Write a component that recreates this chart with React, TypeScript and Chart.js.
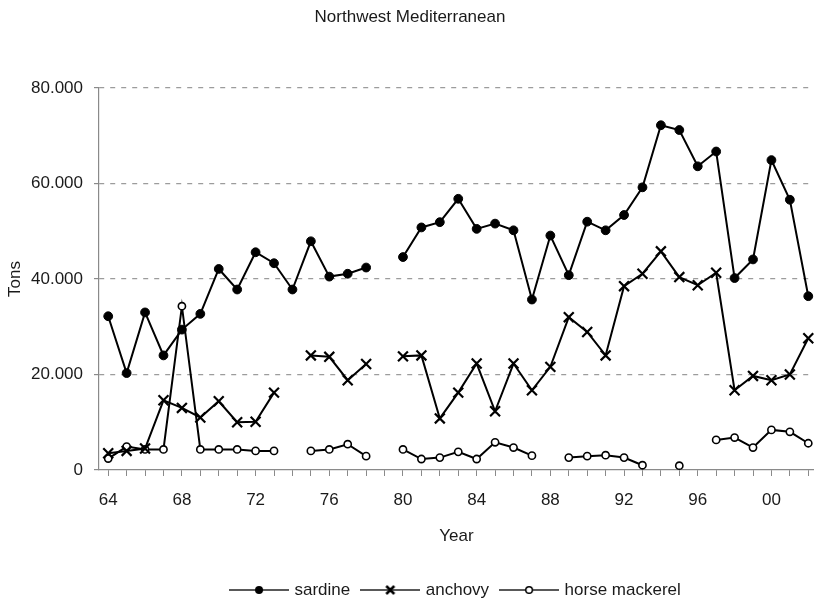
import React, { useEffect, useRef } from 'react';
import { Chart, registerables } from 'chart.js';

Chart.register(...registerables);

const years = [
  1964, 1965, 1966, 1967, 1968, 1969, 1970, 1971, 1972, 1973,
  1974, 1975, 1976, 1977, 1978, 1979, 1980, 1981, 1982, 1983,
  1984, 1985, 1986, 1987, 1988, 1989, 1990, 1991, 1992, 1993,
  1994, 1995, 1996, 1997, 1998, 1999, 2000, 2001, 2002,
];

const sardine = [
  32200, 20300, 33000, 24000, 29400, 32700, 42100, 37800, 45600, 43300,
  37800, 47900, 40500, 41100, 42400, null, 44600, 50800, 51900, 56800,
  50500, 51600, 50200, 35700, 49100, 40800, 52000, 50200, 53400, 59200,
  72200, 71200, 63600, 66700, 40200, 44100, 64900, 56600, 36400,
];

const anchovy = [
  3500, 4000, 4500, 14600, 13000, 11000, 14400, 10000, 10100, 16200,
  null, 24000, 23700, 18800, 22200, null, 23800, 24000, 10800, 16200,
  22300, 12300, 22300, 16700, 21600, 32000, 28900, 24000, 38500, 41100,
  45800, 40400, 38700, 41300, 16700, 19700, 18800, 20000, 27600,
];

const horseMackerel = [
  2400, 4900, 4300, 4300, 34300, 4300, 4300, 4300, 4000, 4000,
  null, 4000, 4300, 5400, 2900, null, 4300, 2300, 2600, 3800,
  2300, 5800, 4700, 3000, null, 2600, 2900, 3100, 2600, 1000,
  null, 900, null, 6300, 6800, 4700, 8400, 8000, 5600,
];

const seriesNames = ['sardine', 'anchovy', 'horse mackerel'];
const yTickValues = [0, 20000, 40000, 60000, 80000];
const labeledYears = [1964, 1968, 1972, 1976, 1980, 1984, 1988, 1992, 1996, 2000];

const FONT = "'Liberation Sans', Arial, Helvetica, sans-serif";
const TEXT = '#1a1a1a';
const AXIS = '#8a8a8a';
const GRID = '#9c9c9c';

function fmtTons(v: number): string {
  if (v === 0) return '0';
  const s = String(Math.round(v));
  return s.replace(/\B(?=(\d{3})+(?!\d))/g, '.');
}

function makeLegendImage(kind: 'dot' | 'cross' | 'ring'): HTMLCanvasElement {
  const c = document.createElement('canvas');
  c.width = 60;
  c.height = 16;
  const g = c.getContext('2d')!;
  g.strokeStyle = '#222';
  g.lineWidth = 1.5;
  g.beginPath();
  g.moveTo(0, 8);
  g.lineTo(60, 8);
  g.stroke();
  g.fillStyle = '#000';
  g.strokeStyle = '#000';
  if (kind === 'dot') {
    g.beginPath();
    g.arc(30, 8, 4, 0, Math.PI * 2);
    g.fill();
  } else if (kind === 'cross') {
    g.lineWidth = 2.5;
    g.beginPath();
    g.moveTo(26, 4);
    g.lineTo(34, 12);
    g.moveTo(34, 4);
    g.lineTo(26, 12);
    g.stroke();
  } else {
    g.fillStyle = '#fff';
    g.lineWidth = 1.5;
    g.beginPath();
    g.arc(30, 8, 3.3, 0, Math.PI * 2);
    g.fill();
    g.stroke();
  }
  return c;
}

function toPoints(values: (number | null)[]) {
  return years.map((yr, i) => ({ x: yr, y: values[i] }));
}

export default function App() {
  const canvasRef = useRef<HTMLCanvasElement | null>(null);

  useEffect(() => {
    if (!canvasRef.current) return;
    const legendImgs = [makeLegendImage('dot'), makeLegendImage('cross'), makeLegendImage('ring')];

    const chart = new Chart(canvasRef.current, {
      type: 'line',
      data: {
        datasets: [
          {
            label: seriesNames[0],
            data: toPoints(sardine),
            borderColor: '#000',
            backgroundColor: '#000',
            borderWidth: 2,
            pointStyle: 'circle',
            pointRadius: 4.4,
            pointBackgroundColor: '#000',
            pointBorderColor: '#000',
            pointBorderWidth: 1,
            spanGaps: false,
            tension: 0,
            clip: false,
          },
          {
            label: seriesNames[1],
            data: toPoints(anchovy),
            borderColor: '#000',
            backgroundColor: '#000',
            borderWidth: 2,
            pointStyle: 'crossRot',
            pointRadius: 7,
            pointBorderColor: '#000',
            pointBorderWidth: 2.2,
            spanGaps: false,
            tension: 0,
            clip: false,
          },
          {
            label: seriesNames[2],
            data: toPoints(horseMackerel),
            borderColor: '#000',
            backgroundColor: '#fff',
            borderWidth: 2,
            pointStyle: 'circle',
            pointRadius: 3.6,
            pointBackgroundColor: '#fff',
            pointBorderColor: '#000',
            pointBorderWidth: 1.6,
            spanGaps: false,
            tension: 0,
            clip: false,
          },
        ],
      },
      options: {
        animation: false,
        responsive: true,
        maintainAspectRatio: false,
        events: [],
        layout: { padding: { left: 0, right: 3, top: 0, bottom: 0 } },
        plugins: {
          tooltip: { enabled: false },
          title: {
            display: true,
            text: 'Northwest Mediterranean',
            color: TEXT,
            font: { family: FONT, size: 17, weight: 'normal' },
            padding: { top: 7, bottom: 60.6 },
          },
          legend: {
            display: true,
            position: 'bottom',
            fullSize: false,
            maxHeight: 29.5,
            labels: {
              usePointStyle: true,
              pointStyleWidth: 54,
              padding: 13,
              color: TEXT,
              font: { family: FONT, size: 17 },
              generateLabels: (ch: any) => {
                const items = (Chart.defaults.plugins.legend.labels as any).generateLabels(ch);
                items.forEach((it: any, i: number) => {
                  it.pointStyle = legendImgs[i];
                });
                return items;
              },
            },
          },
        },
        scales: {
          x: {
            type: 'linear',
            min: 1963.5,
            max: 2002.3,
            afterBuildTicks: (s: any) => {
              s.ticks = years.map((v) => ({ value: v }));
            },
            afterFit: (s: any) => {
              s.height = 98.5;
            },
            ticks: {
              autoSkip: false,
              maxRotation: 0,
              padding: 14,
              color: TEXT,
              font: { family: FONT, size: 17 },
              callback: (v: any) => {
                const n = Number(v);
                if (!labeledYears.includes(n)) return '';
                return String(n % 100).padStart(2, '0');
              },
            },
            grid: {
              drawOnChartArea: false,
              drawTicks: true,
              tickLength: 6,
              color: AXIS,
              tickColor: AXIS,
            },
            border: { display: true, color: AXIS, width: 1.2 },
            title: {
              display: true,
              text: 'Year',
              color: TEXT,
              font: { family: FONT, size: 17 },
              padding: { top: 15.4, bottom: 22.3 },
            },
          },
          y: {
            type: 'linear',
            min: 0,
            max: 80000,
            afterBuildTicks: (s: any) => {
              s.ticks = yTickValues.map((v) => ({ value: v }));
            },
            afterFit: (s: any) => {
              s.width = 99;
            },
            ticks: {
              padding: 11,
              color: TEXT,
              font: { family: FONT, size: 17 },
              callback: (v: any) => fmtTons(Number(v)),
            },
            grid: {
              drawOnChartArea: true,
              drawTicks: true,
              tickLength: 5,
              color: (ctx: any) => (ctx.tick && ctx.tick.value === 0 ? 'rgba(0,0,0,0)' : GRID),
              tickColor: AXIS,
              lineWidth: 1.2,
              tickBorderDash: [],
            },
            border: { display: true, color: AXIS, width: 1.2, dash: [5, 6] },
            title: {
              display: true,
              text: 'Tons',
              color: TEXT,
              font: { family: FONT, size: 17 },
              padding: { top: 5, bottom: 5 },
            },
          },
        },
      } as any,
    });

    return () => {
      chart.destroy();
    };
  }, []);

  return (
    <div style={{ position: 'fixed', left: 0, top: 0, width: 823, height: 598, background: '#fff' }}>
      <canvas ref={canvasRef} />
    </div>
  );
}
